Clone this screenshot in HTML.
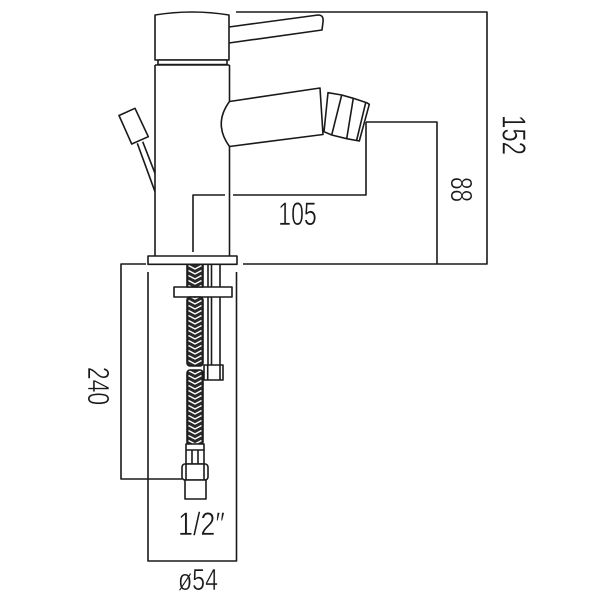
<!DOCTYPE html>
<html><head><meta charset="utf-8"><style>
html,body{margin:0;padding:0;background:#fff;}
svg{display:block;}
text{font-family:"Liberation Sans",sans-serif;fill:#1a1a1a;stroke:#fff;stroke-width:0.5;}
</style></head><body>
<svg width="600" height="600" viewBox="0 0 600 600" xmlns="http://www.w3.org/2000/svg">
<defs>
<pattern id="braid" patternUnits="userSpaceOnUse" x="187" y="0" width="16" height="5">
<rect width="16" height="5" fill="#2a2a2a"/>
<path d="M1.5,0.5 L8,4 L14.5,0.5" fill="none" stroke="#fff" stroke-width="1.4"/>
</pattern>
</defs>
<g fill="none" stroke="#1a1a1a" stroke-width="1.6" stroke-linejoin="round">
<polyline points="236,12 487,12 487,264 243,264"/>
<polyline points="366,122 437,122 437,264"/>
<polyline points="366,122 366,195 233,195"/>
<polyline points="225,195 193,195 193,252"/>
<polyline points="146,264 121,264 121,479 182,479"/>
<polyline points="148,272 148,561 236.5,561 236.5,272"/>

<path d="M229,27 L318,15 Q324,15 323,22 L322,30 L229,43" fill="#fff"/>
<path d="M155,60 L155,15 Q192,9 229,15 L229,60 Z" fill="#fff"/>
<rect x="158" y="60" width="69" height="4.5" fill="#fff"/>
<line x1="155" y1="65" x2="155" y2="256"/>
<line x1="155" y1="65" x2="229.5" y2="65"/>
<line x1="229.5" y1="65" x2="229.5" y2="101.5"/>
<line x1="229.5" y1="146.5" x2="229.5" y2="256"/>
<path d="M229.5,101.5 L320,88 L323,134.5 L229.5,146.5 Q213,124 229.5,101.5 Z" fill="#fff"/>
<path d="M328,92.7 L341.7,95 L353.3,98.3 L366.7,102.7 L369.3,104.3 L359.3,141 L346.7,138.7 L331.7,135 L324,131.7 Z" fill="#fff"/>
<line x1="341.7" y1="95" x2="331.7" y2="135"/>
<line x1="353.3" y1="98.3" x2="346.7" y2="138.7"/>
<line x1="365.7" y1="102.7" x2="356.7" y2="140"/>
<polygon points="119,115.5 135,108.3 148.3,136.7 131.7,144" fill="#fff"/>
<line x1="137.3" y1="143.3" x2="155" y2="191.7"/>
<line x1="142.7" y1="141.7" x2="155" y2="173.3"/>
<rect x="148" y="256" width="89" height="8.3" fill="#fff"/>

<line x1="208" y1="264.3" x2="208" y2="365"/>
<line x1="211.5" y1="264.3" x2="211.5" y2="365"/>
<line x1="220" y1="264.3" x2="220" y2="365"/>
<rect x="204" y="365" width="19" height="15" fill="#fff"/>
<line x1="207.7" y1="365" x2="207.7" y2="380"/>
<line x1="220" y1="365" x2="220" y2="380"/>
<rect x="174" y="287" width="58" height="10" fill="#fff"/>

<rect x="187" y="264.3" width="16" height="22.7" fill="url(#braid)"/>
<rect x="187" y="297" width="16" height="69" rx="3" fill="url(#braid)"/>
<rect x="187" y="370" width="16" height="75" rx="3" fill="url(#braid)"/>
<rect x="186" y="444" width="18" height="20" fill="#fff"/>
<line x1="186" y1="450" x2="204" y2="450"/>
<line x1="192" y1="450" x2="192" y2="464"/>
<line x1="198" y1="450" x2="198" y2="464"/>
<rect x="182" y="464" width="26" height="16" rx="3" fill="#fff"/>
<line x1="186" y1="464" x2="186" y2="480"/>
<line x1="204" y1="464" x2="204" y2="480"/>
<rect x="185" y="480" width="21" height="19" fill="#fff"/>
</g>

<text x="0" y="0" font-size="32" text-anchor="middle" transform="translate(297.5,225) scale(0.72,1)">105</text>
<text x="0" y="0" font-size="33.5" text-anchor="middle" transform="translate(502.7,135) rotate(90) scale(0.715,1)">152</text>
<text x="0" y="0" font-size="30.5" text-anchor="middle" transform="translate(451,189.5) rotate(90) scale(0.74,1)">88</text>
<text x="0" y="0" font-size="31" text-anchor="middle" transform="translate(88,386) rotate(90) scale(0.74,1)">240</text>
<text x="0" y="0" font-size="32" transform="translate(178,535) scale(0.84,1)">1/2″</text>
<text x="0" y="0" font-size="31" text-anchor="middle" transform="translate(198,590) scale(0.75,1)">ø54</text>
</svg>
</body></html>
